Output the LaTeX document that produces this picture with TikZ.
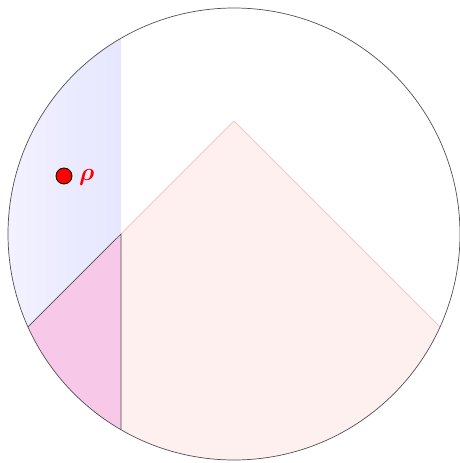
\documentclass[tikz,border=0pt]{standalone}
\usepackage{bm}
\usetikzlibrary{calc}
\definecolor{lightpink}{RGB}{255,240,240}
\definecolor{edgepink}{RGB}{245,200,200}
\definecolor{darkpink}{RGB}{247,200,232}
\definecolor{blueL}{RGB}{242,242,255}
\definecolor{blueR}{RGB}{230,230,255}
\definecolor{outline}{RGB}{80,80,80}
\tikzset{
  rim/.style={draw=outline, line width=0.7pt},
  cut/.style={draw=outline, line width=0.7pt},
  conee/.style={draw=edgepink, line width=0.9pt},
  dotnode/.style={circle, fill=red, draw=black, line width=0.8pt, minimum size=16pt, inner sep=0pt},
  lbl/.style={text=red, font=\fontsize{28}{32}\selectfont, inner sep=0pt}
}
\begin{document}
\begin{tikzpicture}[x=1pt,y=1pt]
\useasboundingbox (0,0) rectangle (460,463);
\coordinate (C) at (234,229);
\coordinate (A) at (234,342);
\coordinate (P) at (121,229);
\coordinate (L) at ($(C)+(204.28:226)$);
\coordinate (R) at ($(C)+(335.72:226)$);
\coordinate (B) at ($(C)+(240:226)$);
\coordinate (T) at ($(C)+(120:226)$);
% blue region
\begin{scope}
\clip (P) -- (L) arc[start angle=204.28, end angle=120, radius=226] -- cycle;
\shade[left color=blueL, right color=blueR] (0,0) rectangle (121,463);
\end{scope}
% light pink cone
\fill[lightpink] (A) -- (R) arc[start angle=-24.28, end angle=-120, radius=226] -- (P) -- cycle;
\draw[conee] (P) -- (A) -- (R);
% dark pink region
\fill[darkpink] (P) -- (L) arc[start angle=204.28, end angle=240, radius=226] -- cycle;
% outline
\draw[rim] (C) circle[radius=226];
\draw[cut] (L) -- (P) -- (B);
% point
\node[dotnode] (rho) at (64,287) {};
\node[lbl, anchor=west] (rholbl) at (79,286) {$\bm{\rho}$};
\end{tikzpicture}
\end{document}
